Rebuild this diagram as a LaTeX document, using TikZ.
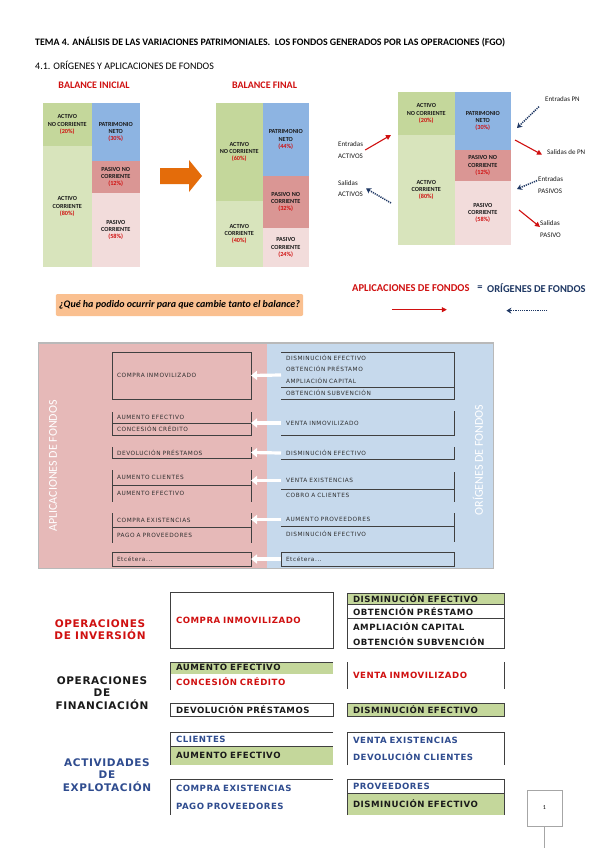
\documentclass[tikz,border=0pt]{standalone}
\usepackage{fontspec}
\setmainfont{Carlito}
\newfontfamily\cajafont[LetterSpace=10]{DejaVu Sans}
\newfontfamily\tablafont[LetterSpace=6]{DejaVu Sans}
\usetikzlibrary{arrows.meta, positioning}
\definecolor{tinta}{HTML}{1A1A1A}
\definecolor{tinta2}{HTML}{404040}
\definecolor{gristxt}{HTML}{2E2E2E}
\definecolor{rojo}{HTML}{D01010}
\definecolor{azul}{HTML}{2F4C8F}
\definecolor{azulosc}{HTML}{1F3864}
\definecolor{verdeosc}{HTML}{C4D79B}
\definecolor{verdecla}{HTML}{D8E4BC}
\definecolor{azulpn}{HTML}{8DB4E2}
\definecolor{rosaosc}{HTML}{DA9694}
\definecolor{rosacla}{HTML}{F2DCDB}
\definecolor{naranja}{HTML}{E46C0A}
\definecolor{naranjacla}{HTML}{FAC090}
\definecolor{rosafondo}{HTML}{E6B9B8}
\definecolor{azulfondo}{HTML}{C6D9EC}
\newcommand{\porc}[1]{\textcolor{rojo}{(#1\%)}}
\tikzset{
  celda/.style={rectangle, inner sep=0pt, outer sep=0pt, align=center, text=tinta,
                font=\fontsize{6.2}{7.2}\selectfont\bfseries},
  titbal/.style={inner sep=0pt, text=rojo, font=\fontsize{10}{11}\selectfont\bfseries},
  etiq/.style={inner sep=0pt, align=left, text=tinta, font=\fontsize{7}{11.5}\selectfont},
  flecharoja/.style={draw=rojo, line width=1.1pt, -{Triangle[length=5pt,width=5pt]}},
  flechaazul/.style={draw=azulosc, line width=1.5pt, dash pattern=on 1.2pt off 1pt,
                     -{Stealth[length=5pt,width=6pt]}},
  fila/.style={rectangle, inner xsep=5pt, inner ysep=0pt, outer sep=0pt, text width=129pt,
               align=left, text=gristxt, font=\cajafont\fontsize{5.8}{7}\selectfont},
  filad/.style={fila, text width=163pt},
  borde/.style={draw=tinta2, line width=0.8pt},
  flechab/.style={draw=white, line width=3.2pt, -{Triangle[length=6pt,width=9pt]}},
  tfila/.style={rectangle, inner xsep=6pt, inner ysep=0pt, outer sep=0pt, text width=151pt,
                align=left, text=tinta, font=\tablafont\bfseries\fontsize{8.6}{9.5}\selectfont},
  tfilad/.style={tfila, text width=145pt},
  tborde/.style={draw=tinta2, line width=0.9pt},
  oper/.style={inner sep=0pt, align=center, font=\tablafont\bfseries\fontsize{10.5}{12.3}\selectfont}
}

\begin{document}
\begin{tikzpicture}[x=1pt, y=-1pt]
  \fill [white] (0,0) rectangle (599,848);
  \useasboundingbox (0,0) rectangle (599,848);

  % encabezado
  \node (tema) [anchor=west, inner sep=0pt, font=\fontsize{9.9}{11}\selectfont\bfseries] at (35,42)
    {TEMA 4. ANÁLISIS DE LAS VARIACIONES PATRIMONIALES.\ \ LOS FONDOS GENERADOS POR LAS OPERACIONES (FGO)};
  \node (sub) [anchor=west, inner sep=0pt, font=\fontsize{10}{11}\selectfont] at (35,65)
    {4.1. ORÍGENES Y APLICACIONES DE FONDOS};

  % balance inicial
  \node (t-ini) [titbal] at (94,85) {BALANCE INICIAL};
  \node (bi-anc) [celda, fill=verdeosc, minimum width=48.5pt, minimum height=43pt, anchor=north west] at (43,103)
    {ACTIVO\\NO CORRIENTE\\\porc{20}};
  \node (bi-ac) [celda, fill=verdecla, minimum width=48.5pt, minimum height=121pt, below=0pt of bi-anc]
    {ACTIVO\\CORRIENTE\\\porc{80}};
  \node (bi-pn) [celda, fill=azulpn, minimum width=48.5pt, minimum height=58pt, anchor=north west] at (bi-anc.north east)
    {PATRIMONIO\\NETO\\\porc{30}};
  \node (bi-pnc) [celda, fill=rosaosc, minimum width=48.5pt, minimum height=32pt, below=0pt of bi-pn]
    {PASIVO NO\\CORRIENTE\\\porc{12}};
  \node (bi-pc) [celda, fill=rosacla, minimum width=48.5pt, minimum height=74pt, below=0pt of bi-pnc]
    {PASIVO\\CORRIENTE\\\porc{58}};

  \fill [naranja] (160,168) -- (189,168) -- (189,160) -- (202,176) -- (189,192) -- (189,184) -- (160,184) -- cycle;

  % balance final
  \node (t-fin) [titbal] at (264.5,85) {BALANCE FINAL};
  \node (bf-anc) [celda, fill=verdeosc, minimum width=46.5pt, minimum height=98pt, anchor=north west] at (216,103)
    {ACTIVO\\NO CORRIENTE\\\porc{60}};
  \node (bf-ac) [celda, fill=verdecla, minimum width=46.5pt, minimum height=66pt, below=0pt of bf-anc]
    {ACTIVO\\CORRIENTE\\\porc{40}};
  \node (bf-pn) [celda, fill=azulpn, minimum width=46.5pt, minimum height=73pt, anchor=north west] at (bf-anc.north east)
    {PATRIMONIO\\NETO\\\porc{44}};
  \node (bf-pnc) [celda, fill=rosaosc, minimum width=46.5pt, minimum height=52pt, below=0pt of bf-pn]
    {PASIVO NO\\CORRIENTE\\\porc{32}};
  \node (bf-pc) [celda, fill=rosacla, minimum width=46.5pt, minimum height=39pt, below=0pt of bf-pnc]
    {PASIVO\\CORRIENTE\\\porc{24}};

  % balance con entradas y salidas
  \node (b-anc) [celda, fill=verdeosc, minimum width=56.5pt, minimum height=43pt, anchor=north west] at (398,92)
    {ACTIVO\\NO CORRIENTE\\\porc{20}};
  \node (b-ac) [celda, fill=verdecla, minimum width=56.5pt, minimum height=110pt, below=0pt of b-anc]
    {ACTIVO\\CORRIENTE\\\porc{80}};
  \node (b-pn) [celda, fill=azulpn, minimum width=56.5pt, minimum height=58pt, anchor=north west] at (b-anc.north east)
    {PATRIMONIO\\NETO\\\porc{30}};
  \node (b-pnc) [celda, fill=rosaosc, minimum width=56.5pt, minimum height=31pt, below=0pt of b-pn]
    {PASIVO NO\\CORRIENTE\\\porc{12}};
  \node (b-pc) [celda, fill=rosacla, minimum width=56.5pt, minimum height=64pt, below=0pt of b-pnc]
    {PASIVO\\CORRIENTE\\\porc{58}};

  \node (ent-pn) [etiq, anchor=west] at (545,99) {Entradas PN};
  \node (sal-pn) [etiq, anchor=west] at (547,152) {Salidas de PN};
  \node (ent-pas) [etiq, anchor=west] at (538,185) {Entradas\\PASIVOS};
  \node (sal-pas) [etiq, anchor=west] at (540,229) {Salidas\\PASIVO};
  \node (ent-act) [etiq, anchor=west] at (338,150) {Entradas\\ACTIVOS};
  \node (sal-act) [etiq, anchor=west] at (338,188.5) {Salidas\\ACTIVOS};
  \coordinate (q-anc) at (391,135);
  \coordinate (q-ac) at (391,203);
  \coordinate (q-pn) at (517,128);
  \coordinate (q-pn2) at (515,140);
  \coordinate (q-pnc) at (517,189);
  \coordinate (q-pc) at (519,210);
  \draw [flecharoja] ([xshift=2pt]ent-act.east) -- (q-anc);
  \draw [flechaazul] (q-ac) -- ([xshift=3pt]sal-act.east);
  \draw [flechaazul] ([shift={(-6pt,-5pt)}]ent-pn.south west) -- (q-pn);
  \draw [flecharoja] (q-pn2) -- ([xshift=-5pt]sal-pn.south west);
  \draw [flechaazul] ([shift={(-1pt,-4pt)}]ent-pas.north west) -- (q-pnc);
  \draw [flecharoja] (q-pc) -- ([yshift=2pt]sal-pas.west);

  \node (apl) [anchor=west, inner sep=0pt, text=rojo, font=\fontsize{10.5}{11}\selectfont\bfseries] at (352,288)
    {APLICACIONES DE FONDOS};
  \node (igual) [inner sep=0pt, text=azulosc, font=\fontsize{10.5}{11}\selectfont\bfseries] at (480,288) {=};
  \node (ori) [anchor=west, inner sep=0pt, text=azulosc, font=\fontsize{10.5}{11}\selectfont\bfseries] at (487,288)
    {ORÍGENES DE FONDOS};
  \draw [flecharoja, line width=0.8pt] ([shift={(-19pt,-18pt)}]apl.south) -- ++(55,0);
  \draw [flechaazul, line width=1.2pt] ([shift={(11pt,-18pt)}]ori.south) -- ++(-41,0);

  \node (pregunta) [rectangle, rounded corners=2pt, fill=naranjacla, minimum width=247pt, minimum height=22pt,
                    font=\fontsize{10}{11}\selectfont\bfseries\itshape] at (179.5,305)
    {¿Qué ha podido ocurrir para que cambie tanto el balance?};

  % esquema aplicaciones / origenes
  \fill [azulfondo] (38.5,343) rectangle (493.5,568.5);
  \fill [rosafondo] (38.5,343) rectangle (267,568.5);
  \draw [gray!55, line width=1.2pt] (38.5,343) rectangle (493.5,568.5);
  \node (rot-apl) [rotate=90, text=white, font=\fontsize{12}{13}\selectfont] at (53,466) {APLICACIONES DE FONDOS};
  \node (rot-ori) [rotate=90, text=white, font=\fontsize{12}{13}\selectfont] at (478,460) {ORÍGENES DE FONDOS};

  \node (a1) [fila, minimum height=47pt, anchor=north west] at (112,352) {COMPRA INMOVILIZADO};
  \node (a2a) [fila, minimum height=11pt, anchor=north west] at (112,412) {AUMENTO EFECTIVO};
  \node (a2b) [fila, minimum height=12pt, below=0pt of a2a] {CONCESIÓN CRÉDITO};
  \node (a3) [fila, minimum height=11pt, anchor=north west] at (112,447) {DEVOLUCIÓN PRÉSTAMOS};
  \node (a4a) [fila, minimum height=15pt, anchor=north west] at (112,470) {AUMENTO CLIENTES};
  \node (a4b) [fila, minimum height=17pt, below=0pt of a4a] {AUMENTO EFECTIVO};
  \node (a5a) [fila, minimum height=14pt, anchor=north west] at (112,513) {COMPRA EXISTENCIAS};
  \node (a5b) [fila, minimum height=16pt, below=0pt of a5a] {PAGO A PROVEEDORES};
  \node (a6) [fila, minimum height=14pt, anchor=north west] at (112,552) {Etcétera...};

  \draw [borde] (a1.north west) rectangle (a1.south east);
  \draw [borde] (a2a.north west) -- (a2b.south west) -- (a2b.south east) -- (a2a.north east);
  \draw [borde] (a2a.south west) -- (a2a.south east);
  \draw [borde] (a3.north west) -- (a3.south west) -- (a3.south east) -- (a3.north east);
  \draw [borde] (a4a.north west) -- (a4b.south west);
  \draw [borde] (a4a.north east) -- (a4b.south east);
  \draw [borde] (a4a.south west) -- (a4a.south east);
  \draw [borde] (a5a.north west) -- (a5b.south west);
  \draw [borde] (a5a.north east) -- (a5b.south east);
  \draw [borde] (a5a.south west) -- (a5a.south east);
  \draw [borde] (a6.north west) rectangle (a6.south east);

  \node (o1a) [filad, minimum height=11.5pt, anchor=north west] at (281,352) {DISMINUCIÓN EFECTIVO};
  \node (o1b) [filad, minimum height=11.5pt, below=0pt of o1a] {OBTENCIÓN PRÉSTAMO};
  \node (o1c) [filad, minimum height=12pt, below=0pt of o1b] {AMPLIACIÓN CAPITAL};
  \node (o1d) [filad, minimum height=12pt, below=0pt of o1c] {OBTENCIÓN SUBVENCIÓN};
  \node (o2) [filad, minimum height=24pt, anchor=north west] at (281,411) {VENTA INMOVILIZADO};
  \node (o3) [filad, minimum height=12pt, anchor=north west] at (281,447) {DISMINUCIÓN EFECTIVO};
  \node (o4a) [filad, minimum height=17pt, anchor=north west] at (281,472) {VENTA EXISTENCIAS};
  \node (o4b) [filad, minimum height=13pt, below=0pt of o4a] {COBRO A CLIENTES};
  \node (o5a) [filad, minimum height=13pt, anchor=north west] at (281,513) {AUMENTO PROVEEDORES};
  \node (o5b) [filad, minimum height=16pt, below=0pt of o5a] {DISMINUCIÓN EFECTIVO};
  \node (o6) [filad, minimum height=14pt, anchor=north west] at (281,552) {Etcétera...};

  \draw [borde] (o1a.north west) -- (o1a.north east) -- (o1d.south east) -- (o1d.south west);
  \draw [borde] (o1c.south west) -- (o1c.south east);
  \draw [borde] (o2.north east) -- (o2.south east) -- (o2.south west);
  \draw [borde] (o3.north east) -- (o3.south east) -- (o3.south west);
  \draw [borde] (o4a.north east) -- (o4b.south east);
  \draw [borde] (o4a.south west) -- (o4a.south east);
  \draw [borde] (o5a.north east) -- (o5b.south east);
  \draw [borde] (o5a.south west) -- (o5a.south east);
  \draw [borde] (o6.north west) rectangle (o6.south east);

  \draw [flechab] (o1b.south west) -- (a1.east);
  \draw [flechab] (o2.west) -- (a2a.south east);
  \draw [flechab] (o3.west) -- (a3.east);
  \draw [flechab] (o4a.west) -- (a4a.east |- o4a.west);
  \draw [flechab] (o5a.west) -- (a5a.east |- o5a.west);
  \draw [flechab] (o6.west) -- (a6.east);

  % clasificacion por operaciones
  \node (opinv) [oper, text=rojo] at (100,629.5) {OPERACIONES\\DE INVERSIÓN};
  \node (opfin) [oper, text=tinta] at (102,693) {OPERACIONES\\DE\\FINANCIACIÓN};
  \node (actexp) [oper, text=azul] at (107,775) {ACTIVIDADES\\DE\\EXPLOTACIÓN};

  \node (l1) [tfila, text=rojo, minimum height=56pt, anchor=north west] at (170,592) {COMPRA INMOVILIZADO};
  \node (l2a) [tfila, fill=verdeosc, minimum height=11.5pt, anchor=north west] at (170,662) {AUMENTO EFECTIVO};
  \node (l2b) [tfila, text=rojo, minimum height=16.5pt, below=0pt of l2a] {CONCESIÓN CRÉDITO};
  \node (l3) [tfila, minimum height=13pt, anchor=north west] at (170,703) {DEVOLUCIÓN PRÉSTAMOS};
  \node (l4a) [tfila, text=azul, minimum height=14pt, anchor=north west] at (170,732) {CLIENTES};
  \node (l4b) [tfila, fill=verdeosc, minimum height=19pt, below=0pt of l4a] {AUMENTO EFECTIVO};
  \node (l5a) [tfila, text=azul, minimum height=19pt, anchor=north west] at (170,779) {COMPRA EXISTENCIAS};
  \node (l5b) [tfila, text=azul, minimum height=17pt, below=0pt of l5a] {PAGO PROVEEDORES};

  \draw [tborde] (l1.north west) rectangle (l1.south east);
  \draw [tborde] (l2a.north east) -- (l2a.north west) -- (l2b.south west);
  \draw [tborde] (l3.north west) rectangle (l3.south east);
  \draw [tborde] (l4a.north east) -- (l4a.north west) -- (l4b.south west);
  \draw [tborde] (l4a.south west) -- (l4a.south east);
  \draw [tborde] (l5a.north east) -- (l5a.north west) -- (l5b.south west);

  \node (r1a) [tfilad, fill=verdeosc, minimum height=11.5pt, anchor=north west] at (347,593) {DISMINUCIÓN EFECTIVO};
  \node (r1b) [tfilad, minimum height=13.5pt, below=0pt of r1a] {OBTENCIÓN PRÉSTAMO};
  \node (r1c) [tfilad, minimum height=17pt, below=0pt of r1b] {AMPLIACIÓN CAPITAL};
  \node (r1d) [tfilad, minimum height=13pt, below=0pt of r1c] {OBTENCIÓN SUBVENCIÓN};
  \node (r2) [tfilad, text=rojo, minimum height=27pt, anchor=north west] at (347,662) {VENTA INMOVILIZADO};
  \node (r3) [tfilad, fill=verdeosc, minimum height=13pt, anchor=north west] at (347,703) {DISMINUCIÓN EFECTIVO};
  \node (r4a) [tfilad, text=azul, minimum height=17pt, anchor=north west] at (347,732) {VENTA EXISTENCIAS};
  \node (r4b) [tfilad, text=azul, minimum height=16pt, below=0pt of r4a] {DEVOLUCIÓN CLIENTES};
  \node (r5a) [tfilad, text=azul, minimum height=14pt, anchor=north west] at (347,779) {PROVEEDORES};
  \node (r5b) [tfilad, fill=verdeosc, minimum height=22pt, below=0pt of r5a] {DISMINUCIÓN EFECTIVO};

  \draw [tborde] (r1a.north west) rectangle (r1d.south east);
  \draw [tborde] (r1a.south west) -- (r1a.south east);
  \draw [tborde] (r1b.south west) -- (r1b.south east);
  \draw [tborde] (r2.north west) -- (r2.south west);
  \draw [tborde] (r2.north east) -- (r2.south east);
  \draw [tborde] (r3.north west) rectangle (r3.south east);
  \draw [tborde] (r4b.south west) -- (r4a.north west) -- (r4a.north east) -- (r4b.south east);
  \draw [tborde] (r5b.south west) -- (r5a.north west) -- (r5a.north east) -- (r5b.south east);
  \draw [tborde] (r5a.south west) -- (r5a.south east);

  % numero de pagina
  \node (pag) [rectangle, draw=gray!70, line width=0.8pt, minimum width=35pt, minimum height=36pt,
               font=\fontsize{6}{7}\selectfont] at (544.5,808) {1};
  \coordinate (pie) at (544.5,848);
  \draw [gray!70, line width=0.8pt] (pag.south) -- (pie);
\end{tikzpicture}
\end{document}
